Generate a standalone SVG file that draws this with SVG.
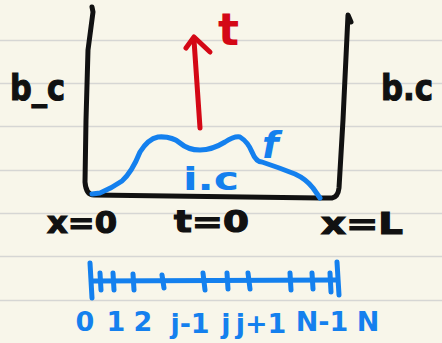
<svg xmlns="http://www.w3.org/2000/svg" width="442" height="343" viewBox="0 0 442 343">
<style>
.rule{stroke:#d6d6d4;stroke-width:1.5}
.ink{fill:none;stroke:#111;stroke-width:5;stroke-linecap:round;stroke-linejoin:round}
.blue{fill:none;stroke:#1480ee;stroke-width:5;stroke-linecap:round;stroke-linejoin:round}
.red{fill:none;stroke:#d40816;stroke-width:5;stroke-linecap:round;stroke-linejoin:round}
.tk{font-family:"DejaVu Sans",sans-serif;font-weight:bold;fill:#111;stroke:#111;stroke-width:1.2}
.tb{font-family:"DejaVu Sans",sans-serif;font-weight:bold;fill:#1480ee}
.tr{font-family:"DejaVu Sans",sans-serif;font-weight:bold;fill:#d40816}
.lab{font-family:"DejaVu Sans",sans-serif;font-weight:bold;fill:#1480ee;text-anchor:middle;font-size:27px}
</style>
<rect width="442" height="343" fill="#f8f6ea"/>
<g id="rules">
<line class="rule" x1="0" y1="40.5" x2="442" y2="40.5"/>
<line class="rule" x1="0" y1="83.5" x2="442" y2="83.5"/>
<line class="rule" x1="0" y1="126.5" x2="442" y2="126.5"/>
<line class="rule" x1="0" y1="170.5" x2="442" y2="170.5"/>
<line class="rule" x1="0" y1="213.5" x2="442" y2="213.5"/>
<line class="rule" x1="0" y1="256.5" x2="442" y2="256.5"/>
<line class="rule" x1="0" y1="300.5" x2="442" y2="300.5"/>
</g>
<g id="box">
<path class="ink" d="M92,7 L93,12 L88,50 L86,120 L85,182 Q86,195 94,195 L320,198 L332,198 Q338,197 339,188 L343,120 L348,15 L351,22"/>
</g>
<g id="curve">
<path class="blue" d="M92,194 L100,193 Q112,188 122,181 Q132,172 140,152 Q148,139 158,137 Q172,136 180,143 Q188,150 200,150 Q212,150 225,142 Q234,136 240,137 Q248,142 252,152 Q256,162 262,162 Q280,168 295,174 Q306,179 313,188 L320,198"/>
</g>
<g id="arrow">
<path class="red" d="M200,128 L194,40"/>
<path class="red" d="M186,48 L194,37 L210,52"/>
</g>
<g id="labels">
<text class="tr" x="218" y="45" font-size="44">t</text>
<text class="tb" x="262" y="158" font-size="38" font-style="italic">f</text>
<text class="tb" x="183" y="190" font-size="32" textLength="56" lengthAdjust="spacingAndGlyphs">i.c</text>
<text class="tk" x="10" y="100" font-size="36" textLength="55" lengthAdjust="spacingAndGlyphs">b_c</text>
<text class="tk" x="381" y="100" font-size="36" textLength="52" lengthAdjust="spacingAndGlyphs">b.c</text>
<text class="tk" x="47" y="233" font-size="30" textLength="70" lengthAdjust="spacingAndGlyphs">x=0</text>
<text class="tk" x="174" y="232" font-size="30" textLength="75" lengthAdjust="spacingAndGlyphs">t=0</text>
<text class="tk" x="321" y="234" font-size="30" textLength="82" lengthAdjust="spacingAndGlyphs">x=L</text>
</g>
<g id="grid">
<path class="blue" d="M92,298 L90,263 M93,281 L335,280 M337,262 L339,295"/>
<path class="blue" d="M100,273 L101,290 M113,273 L114,290 M133,274 L134,290 M162,275 L164,288 M203,273 L205,290 M227,273 L228,289 M248,273 L250,289 M290,273 L291,290 M312,273 L313,289 M330,273 L331,292"/>
<text class="lab" x="85" y="331">0</text>
<text class="lab" x="116" y="331">1</text>
<text class="lab" x="143" y="331">2</text>
<text class="lab" x="190" y="333">j-1</text>
<text class="lab" x="226" y="333">j</text>
<text class="lab" x="261" y="333">j+1</text>
<text class="lab" x="322" y="331">N-1</text>
<text class="lab" x="368" y="331">N</text>
</g>
</svg>
